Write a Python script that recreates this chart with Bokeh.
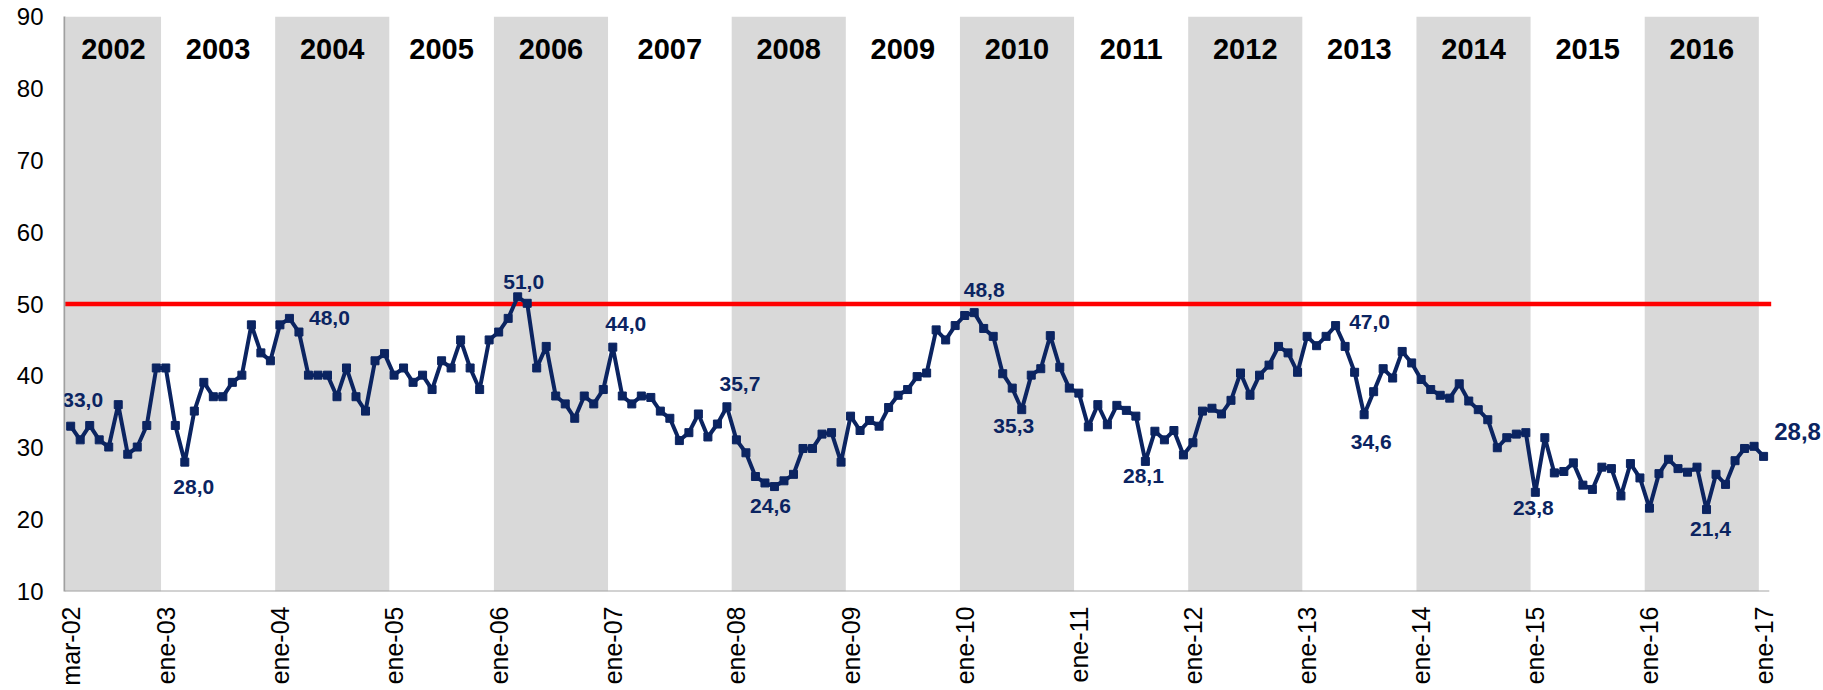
import math
from bokeh.plotting import figure
from bokeh.models import Range1d, FixedTicker, Label
from bokeh.embed import file_html
from bokeh.resources import INLINE

# ---------------- data ----------------
years = [2002, 2003, 2004, 2005, 2006, 2007, 2008, 2009,
         2010, 2011, 2012, 2013, 2014, 2015, 2016, 2017]

v2002 = [33.0, 31.1, 33.1, 31.1, 30.1, 36.0, 29.1, 30.1, 33.1, 41.1]
v2003 = [41.1, 33.1, 28.0, 35.1, 39.1, 37.1, 37.1, 39.1, 40.1, 47.1, 43.2, 42.1]
v2004 = [47.1, 48.0, 46.1, 40.1, 40.1, 40.1, 37.1, 41.1, 37.1, 35.1, 42.1, 43.1]
v2005 = [40.1, 41.1, 39.1, 40.1, 38.1, 42.1, 41.1, 45.0, 41.1, 38.1, 45.0]
v2006 = [46.1, 48.0, 51.0, 50.1, 41.1, 44.1, 37.2, 36.1, 34.1, 37.2, 36.1, 38.1]
v2007 = [44.0, 37.2, 36.1, 37.2, 37.0, 35.1, 34.1, 31.0, 32.1, 34.7, 31.5, 33.3, 35.7]
v2008 = [31.1, 29.3, 26.0, 25.1, 24.6, 25.4, 26.3, 29.9, 29.9, 31.9, 32.1, 28.0]
v2009 = [34.4, 32.4, 33.8, 33.0, 35.6, 37.3, 38.1, 39.9, 40.4, 46.4, 45.0, 47.0]
v2010 = [48.4, 48.8, 46.6, 45.5, 40.3, 38.3, 35.3, 40.1, 41.0, 45.6, 41.2, 38.3]
v2011 = [37.6, 32.9, 36.0, 33.2, 35.9, 35.2, 34.4, 28.1, 32.3, 31.1, 32.4, 29.0]
v2012 = [30.7, 35.1, 35.5, 34.7, 36.6, 40.4, 37.3, 40.1, 41.5, 44.1, 43.2, 40.5]
v2013 = [45.5, 44.2, 45.5, 47.0, 44.1, 40.5, 34.6, 37.8, 41.0, 39.7, 43.4, 41.8]
v2014 = [39.5, 38.1, 37.3, 36.9, 38.9, 36.5, 35.3, 33.9, 30.0, 31.4, 31.9, 32.1]
v2015 = [23.8, 31.4, 26.5, 26.7, 27.9, 24.8, 24.2, 27.3, 27.1, 23.3, 27.8, 25.8]
v2016 = [21.6, 26.4, 28.4, 27.1, 26.6, 27.3, 21.4, 26.3, 24.9, 28.2, 29.9, 30.2]
v2017 = [28.8]

series_by_year = [v2002, v2003, v2004, v2005, v2006, v2007, v2008, v2009,
                  v2010, v2011, v2012, v2013, v2014, v2015, v2016, v2017]

tick_labels = ["mar-02", "ene-03", "ene-04", "ene-05", "ene-06", "ene-07",
               "ene-08", "ene-09", "ene-10", "ene-11", "ene-12", "ene-13",
               "ene-14", "ene-15", "ene-16", "ene-17"]

threshold = 50.0

# points whose value is written on the chart (position in the series)
labelled_points = [0, 12, 23, 47, 57, 69, 74, 95, 100, 113, 133, 136, 154, 172, 178]

# ---------------- styling ----------------
NAVY = "#0b2461"
GREY_BAND = "#d9d9d9"
FONT = "Liberation Sans"
X0 = -0.65

# label offsets in screen px (dx, dy up)
label_offsets = [(12, 26), (9, -25), (40, 0), (6, 15), (13, 23), (13, 23),
                 (-4, -19), (10, 23), (-8, -16), (-2, -15), (34, 4),
                 (7, -27), (-2, -16), (4, -19), (34, 25)]

# ---------------- derived ----------------
values = [v for ys in series_by_year for v in ys]
xs = list(range(len(values)))
starts = []
acc = 0
for ys in series_by_year:
    starts.append(acc)
    acc += len(ys)

p = figure(width=1823, height=690, output_backend="svg", toolbar_location=None,
           x_range=Range1d(X0, 184.3), y_range=Range1d(10, 90),
           min_border_left=64, min_border_right=0, min_border_top=16,
           min_border_bottom=99)
p.background_fill_color = "white"
p.border_fill_color = "white"
p.outline_line_color = None
p.xgrid.visible = False
p.ygrid.visible = False

# year bands
lefts, rights = [], []
for i, yr in enumerate(years[:-1]):
    l = max(starts[i] - 0.5, X0)
    r = starts[i + 1] - 0.5
    if yr % 2 == 0:
        lefts.append(l)
        rights.append(r)
    p.add_layout(Label(x=(l + r) / 2, y=85.5, text=str(yr), text_align="center",
                       text_baseline="middle", text_font=FONT, text_font_size="29px",
                       text_font_style="bold", text_color="black"))
p.quad(left=lefts, right=rights, bottom=10, top=90, fill_color=GREY_BAND,
       line_color=None, level="underlay")

# bottom axis line (own)
p.segment(x0=[X0], y0=[10], x1=[178.6], y1=[10], line_color="#a6a6a6", line_width=2)

# threshold line
p.segment(x0=[X0], y0=[threshold], x1=[178.8], y1=[threshold],
          line_color="#ff0000", line_width=4.5)

# series
p.line(xs, values, line_color=NAVY, line_width=4)
p.scatter(xs, values, marker="square", size=8, fill_color=NAVY, line_color=NAVY)

# data labels
for idx, (dx, dy) in zip(labelled_points, label_offsets):
    last = idx == len(values) - 1
    p.add_layout(Label(x=idx, y=values[idx],
                       text=f"{values[idx]:.1f}".replace(".", ","),
                       x_offset=dx, y_offset=dy, text_align="center",
                       text_baseline="middle", text_font=FONT,
                       text_font_size="24px" if last else "21px",
                       text_font_style="bold", text_color=NAVY))

# axes
xa = p.xaxis[0]
xa.ticker = FixedTicker(ticks=starts)
xa.major_label_overrides = {s: t for s, t in zip(starts, tick_labels)}
xa.major_label_orientation = math.pi / 2
xa.axis_line_color = None
xa.major_tick_line_color = None
xa.minor_tick_line_color = None
xa.major_tick_out = 0
xa.major_tick_in = 0
xa.minor_tick_out = 0
xa.axis_label_standoff = 0
xa.major_label_text_font = FONT
xa.major_label_text_font_size = "25px"
xa.major_label_text_color = "black"
xa.major_label_standoff = 15

ya = p.yaxis[0]
ya.ticker = FixedTicker(ticks=[10, 20, 30, 40, 50, 60, 70, 80, 90])
ya.axis_line_color = "#a0a0a0"
ya.axis_line_width = 2
ya.major_tick_line_color = None
ya.minor_tick_line_color = None
ya.major_tick_out = 0
ya.major_tick_in = 0
ya.minor_tick_out = 0
ya.major_label_text_font = FONT
ya.major_label_text_font_size = "24px"
ya.major_label_text_color = "black"
ya.major_label_standoff = 21

open("out.html", "w").write(file_html(p, INLINE))
